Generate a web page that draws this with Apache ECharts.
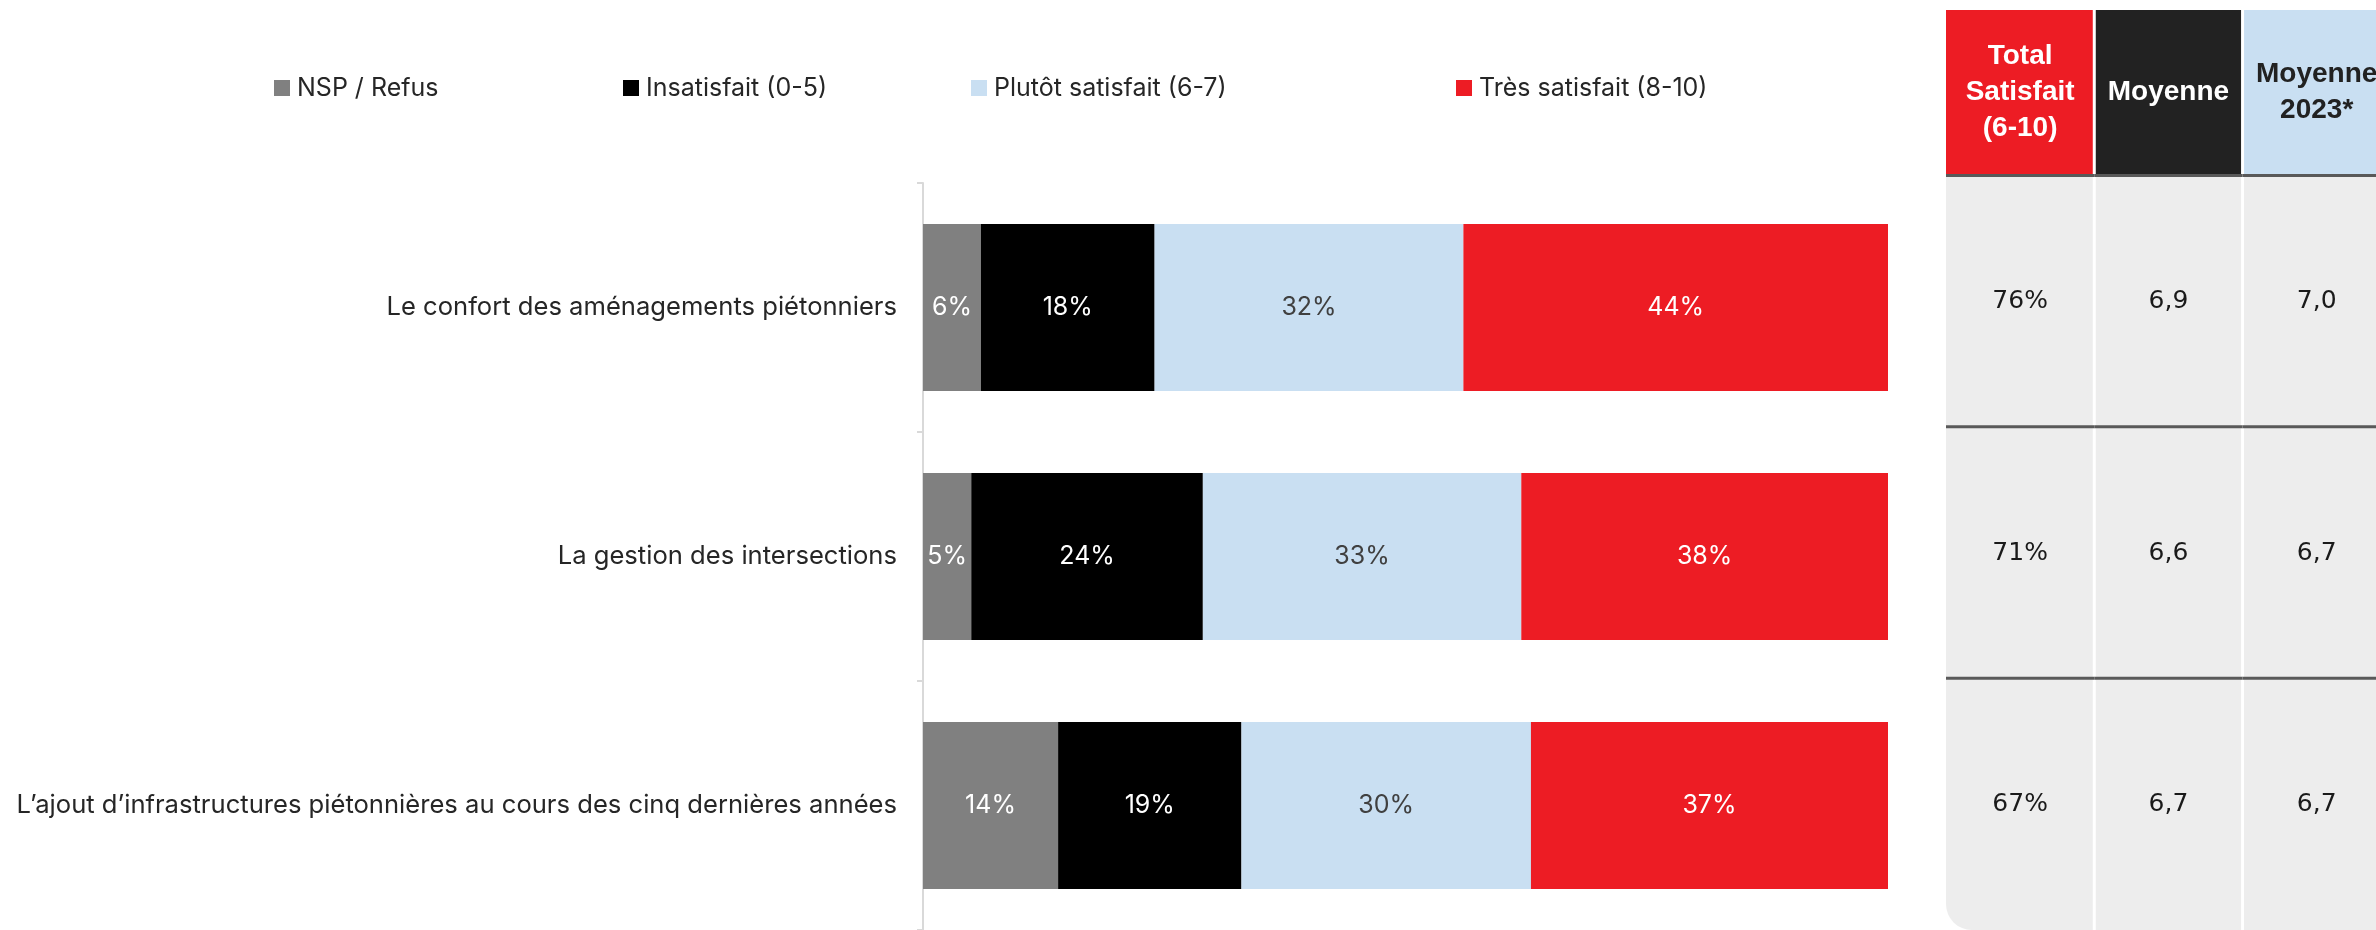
<!DOCTYPE html>
<html>
<head>
<meta charset="utf-8">
<script src="https://cdn.jsdelivr.net/npm/echarts@6/dist/echarts.min.js"></script>
<style>
  html, body { margin: 0; padding: 0; background: #ffffff; }
  #chart { width: 2376px; height: 930px; }
</style>
</head>
<body>
<div id="chart"></div>
<script>
// ---- Data ----
const categories = [
  'Le confort des aménagements piétonniers',
  'La gestion des intersections',
  'L\u2019ajout d\u2019infrastructures piétonnières au cours des cinq dernières années'
];
const seriesNames = ['NSP / Refus', 'Insatisfait (0-5)', 'Plutôt satisfait (6-7)', 'Très satisfait (8-10)'];
const nspRefus = [6, 5, 14];
const insatisfait = [18, 24, 19];
const plutotSatisfait = [32, 33, 30];
const tresSatisfait = [44, 38, 37];

const tableHeaders = ['Total\nSatisfait\n(6-10)', 'Moyenne', 'Moyenne\n2023*'];
const totalSatisfait = ['76%', '71%', '67%'];
const moyenne = ['6,9', '6,6', '6,7'];
const moyenne2023 = ['7,0', '6,7', '6,7'];

// ---- Styles ----
const colors = ['#808080', '#000000', '#C9DFF2', '#ED1C24'];
const labelColors = ['#ffffff', '#ffffff', '#404040', '#ffffff'];
const headerFill = ['#ED1C24', '#222222', '#C9DFF2'];
const headerText = ['#ffffff', '#ffffff', '#222222'];
const legendLefts = [274, 623, 971, 1456];
const FONT = 'Inter, "Liberation Sans", Arial, sans-serif';

const seriesValues = [nspRefus, insatisfait, plutotSatisfait, tresSatisfait];
const tableCols = [totalSatisfait, moyenne, moyenne2023];

const barSeries = seriesNames.map((name, i) => ({
  name: name,
  type: 'bar',
  stack: 'total',
  xAxisIndex: 0,
  yAxisIndex: 0,
  barWidth: '67%',
  itemStyle: { color: colors[i] },
  label: {
    show: true,
    position: 'inside',
    formatter: '{c}%',
    color: labelColors[i],
    fontSize: 25,
    fontFamily: FONT
  },
  emphasis: { disabled: true },
  data: seriesValues[i]
}));

const headerData = tableHeaders.map((h, c) => [c, 0, h]);
const bodyData = [];
for (let r = 0; r < categories.length; r++) {
  for (let c = 0; c < tableCols.length; c++) {
    bodyData.push([c, r, tableCols[c][r]]);
  }
}

const headerSeries = {
  type: 'custom',
  xAxisIndex: 1,
  yAxisIndex: 1,
  silent: true,
  data: headerData,
  renderItem: function (params, api) {
    const c = api.value(0);
    const pt = api.coord([c, 0]);
    const sz = api.size([1, 1]);
    const x0 = pt[0] - sz[0] / 2;
    const y0 = pt[1] - sz[1] / 2;
    const inL = c === 0 ? 0 : 1.5;
    const inR = 1.5;
    return {
      type: 'group',
      children: [
        { type: 'rect', shape: { x: x0 + inL, y: y0, width: sz[0] - inL - inR, height: sz[1] },
          style: { fill: headerFill[c] } },
        { type: 'text', x: pt[0], y: pt[1],
          style: { text: tableHeaders[c], fill: headerText[c], font: 'bold 28px "Liberation Sans", Arial, sans-serif',
            align: 'center', verticalAlign: 'middle', lineHeight: 36 } }
      ]
    };
  }
};

const bodySeries = {
  type: 'custom',
  xAxisIndex: 2,
  yAxisIndex: 2,
  silent: true,
  data: bodyData,
  renderItem: function (params, api) {
    const c = api.value(0);
    const r = api.value(1);
    const pt = api.coord([c, r]);
    const sz = api.size([1, 1]);
    const x0 = pt[0] - sz[0] / 2;
    const y0 = pt[1] - sz[1] / 2;
    const inL = c === 0 ? 0 : 1.5;
    const inR = 1.5;
    const last = r === categories.length - 1;
    return {
      type: 'group',
      children: [
        { type: 'rect', shape: { x: x0 + inL, y: y0, width: sz[0] - inL - inR, height: sz[1],
            r: (c === 0 && last) ? [0, 0, 0, 26] : 0 },
          style: { fill: '#EDEDED' } },
        { type: 'rect', shape: { x: x0, y: y0 - 2, width: sz[0], height: 3 },
          style: { fill: '#595959' } },
        { type: 'text', x: pt[0], y: pt[1],
          style: { text: String(api.value(2)), fill: '#1a1a1a', font: '25px "DejaVu Sans", sans-serif',
            align: 'center', verticalAlign: 'middle' } }
      ]
    };
  }
};

const legends = seriesNames.map((name, i) => ({
  data: [name],
  left: legendLefts[i],
  top: 74,
  padding: 0,
  icon: 'rect',
  itemWidth: 16,
  itemHeight: 16,
  selectedMode: false,
  textStyle: { fontSize: 25, color: '#262626', fontFamily: FONT, lineHeight: 28, padding: [0, 0, 0, 2] }
}));

// table column axis: value axis so each column is ~148px wide while the grid stays inside the canvas
const tableX = { type: 'value', min: -0.5, max: 2.4, show: false };

const option = {
  backgroundColor: '#ffffff',
  animation: false,
  legend: legends,
  grid: [
    { left: 923, top: 183, width: 965, height: 750 },
    { left: 1946, top: 10, width: 430, height: 164 },
    { left: 1946, top: 176, width: 430, height: 754 }
  ],
  xAxis: [
    { gridIndex: 0, type: 'value', min: 0, max: 100, show: false },
    Object.assign({ gridIndex: 1 }, tableX),
    Object.assign({ gridIndex: 2 }, tableX)
  ],
  yAxis: [
    { gridIndex: 0, type: 'category', data: categories, inverse: true,
      axisLine: { show: true, lineStyle: { color: '#D9D9D9', width: 2 } },
      axisTick: { show: true, length: 6, lineStyle: { color: '#D9D9D9', width: 2 } },
      axisLabel: { fontSize: 25.6, color: '#262626', margin: 26, fontFamily: FONT },
      splitLine: { show: false } },
    { gridIndex: 1, type: 'category', data: ['h'], show: false },
    { gridIndex: 2, type: 'category', data: categories, inverse: true, show: false }
  ],
  series: barSeries.concat([headerSeries, bodySeries])
};

const chart = echarts.init(document.getElementById('chart'), null, { renderer: 'canvas' });
chart.setOption(option);
</script>
</body>
</html>
